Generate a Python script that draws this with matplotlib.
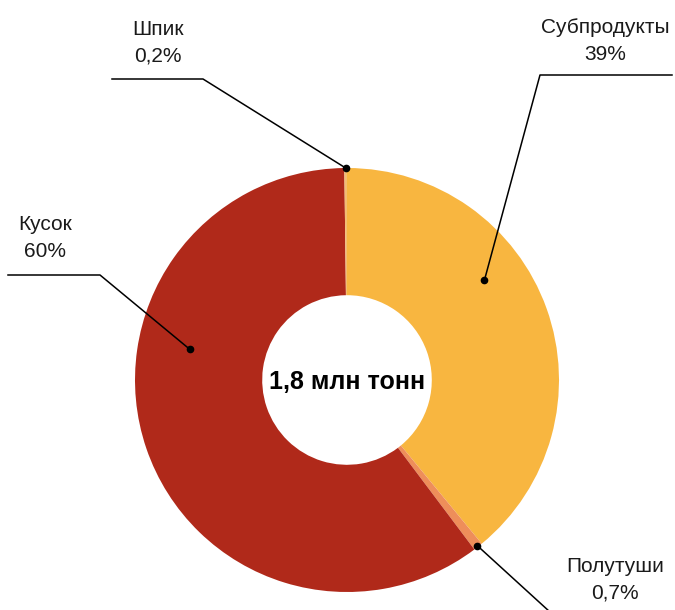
import numpy as np
import matplotlib
matplotlib.use("Agg")
import matplotlib.pyplot as plt

labels = ["Субпродукты", "Полутуши", "Кусок", "Шпик"]
shares = [39, 0.7, 60, 0.2]
share_text = ["39%", "0,7%", "60%", "0,2%"]
colors = ["#F8B640", "#EE8E5A", "#B0291A", "#F4BC72"]
center_text = "1,8 млн тонн"

FONT = ["Liberation Sans Narrow", "Liberation Sans", "DejaVu Sans"]

W, H = 675, 610
fig = plt.figure(figsize=(W / 100, H / 100), dpi=100)
ax = fig.add_axes([0, 0, 1, 1])

cx, cy = 347, H - 380
R = 212
ring = 0.6

wedges, _ = ax.pie(shares, colors=colors, startangle=90, counterclock=False,
                   radius=R, center=(cx, cy), frame=True,
                   wedgeprops=dict(width=R * ring, linewidth=0))
ax.set_xlim(0, W)
ax.set_ylim(0, H)
ax.set_aspect("equal")
ax.axis("off")

ax.text(cx, cy - 2, center_text, ha="center", va="center", fontsize=18,
        fontweight="bold", family=FONT, color="black")

def pt(idx, frac_ang, rr):
    w = wedges[idx]
    t1, t2 = w.theta1, w.theta2
    ang = np.deg2rad(t1 + (t2 - t1) * frac_ang)
    return cx + rr * np.cos(ang), cy + rr * np.sin(ang)

# (index, angle fraction within wedge, radius, elbow, line end, text xy)
ann = [
    (0, 0.616, 170, (540, H - 75), (672, H - 75), (605, H - 41)),
    (1, 0.5, 211, None, (550, H - 612), (615, H - 580)),
    (2, 0.362, 160, (100, H - 275), (8, H - 275), (45, H - 238)),
    (3, 0.5, 212, (203, H - 79), (112, H - 79), (158, H - 43)),
]
for idx, fa, rr, elbow, end, txy in ann:
    px, py = pt(idx, fa, rr)
    ax.plot([px], [py], "o", color="black", ms=4.5, zorder=5)
    if elbow is not None:
        ax.plot([px, elbow[0], end[0]], [py, elbow[1], end[1]], color="black", lw=1.1, zorder=4)
    else:
        ax.plot([px, end[0]], [py, end[1]], color="black", lw=1.1, zorder=4)
    ax.text(txy[0], txy[1], labels[idx] + "\n" + share_text[idx], ha="center",
            va="center", fontsize=15, family=FONT, color="#1a1a1a", linespacing=1.5)

fig.savefig("out.png", dpi=100, facecolor="white")
